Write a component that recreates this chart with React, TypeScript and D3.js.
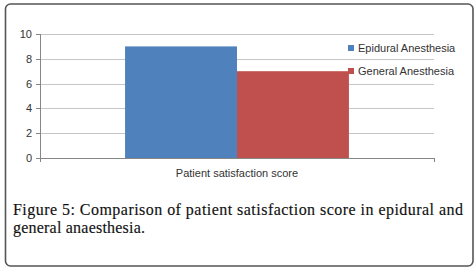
import React from "react";
import * as d3 from "d3";

const categories = ["Patient satisfaction score"];
const seriesNames = ["Epidural Anesthesia", "General Anesthesia"];
const epiduralValues = [9];
const generalValues = [7];
const yTicks = [0, 2, 4, 6, 8, 10];
const colors = ["#4f81bd", "#c0504d"];

export default function App() {
  const W = 476, H = 269;
  const left = 40, right = 434, top = 34, bottom = 158;
  const x0 = d3.scaleBand().domain(categories).range([left, right]).paddingInner(0).paddingOuter(0.38);
  const x1 = d3.scaleBand().domain(seriesNames).range([0, x0.bandwidth()]).padding(0);
  const y = d3.scaleLinear().domain([0, 10]).range([bottom, top]);
  const seriesVals = [epiduralValues, generalValues];
  const font = "'Liberation Sans', Arial, sans-serif";
  const serif = "'Liberation Serif', 'DejaVu Serif', serif";
  return (
    <svg width={W} height={H} style={{ position: "fixed", left: 0, top: 0, background: "#fff" }}>
      <rect x={5.5} y={4} width={467.5} height={262} rx={5} ry={5} fill="#fff" stroke="#555" strokeWidth={1.6} />
      {yTicks.map((t) => (
        <g key={t}>
          <line x1={left} x2={right} y1={Math.round(y(t)) + 0.5} y2={Math.round(y(t)) + 0.5} stroke={t === 0 ? "#868686" : "#c6c6c6"} strokeWidth={1} />
          <line x1={left - 4} x2={left} y1={Math.round(y(t)) + 0.5} y2={Math.round(y(t)) + 0.5} stroke="#868686" />
          <text x={32} y={y(t) + 4} textAnchor="end" fontFamily={font} fontSize={11} fill="#333">{t}</text>
        </g>
      ))}
      <line x1={left + 0.5} x2={left + 0.5} y1={top} y2={bottom + 4} stroke="#868686" />
      <line x1={right + 0.5} x2={right + 0.5} y1={bottom} y2={bottom + 4} stroke="#868686" />
      {categories.map((c, ci) => (
        <g key={c}>
          {seriesNames.map((s, si) => (
            <rect key={s} x={(x0(c) ?? 0) + (x1(s) ?? 0)} y={y(seriesVals[si][ci])} width={x1.bandwidth()} height={bottom - y(seriesVals[si][ci])} fill={colors[si]} />
          ))}
          <text x={(x0(c) ?? 0) + x0.bandwidth() / 2} y={177} textAnchor="middle" fontFamily={font} fontSize={11} fill="#333">{c}</text>
        </g>
      ))}
      {seriesNames.map((s, i) => (
        <g key={s}>
          <rect x={348} y={45 + i * 23} width={6} height={6} fill={colors[i]} />
          <text x={358} y={51.5 + i * 23} fontFamily={font} fontSize={11} fill="#333">{s}</text>
        </g>
      ))}
      <text x={13} y={215} fontFamily={serif} fontSize={16} fill="#111" stroke="#111" strokeWidth={0.15} textLength={450} lengthAdjust="spacing">
        Figure 5: Comparison of patient satisfaction score in epidural and
      </text>
      <text x={13} y={233} fontFamily={serif} fontSize={16} fill="#111" stroke="#111" strokeWidth={0.15} textLength={132} lengthAdjust="spacing">general anaesthesia.</text>
    </svg>
  );
}
